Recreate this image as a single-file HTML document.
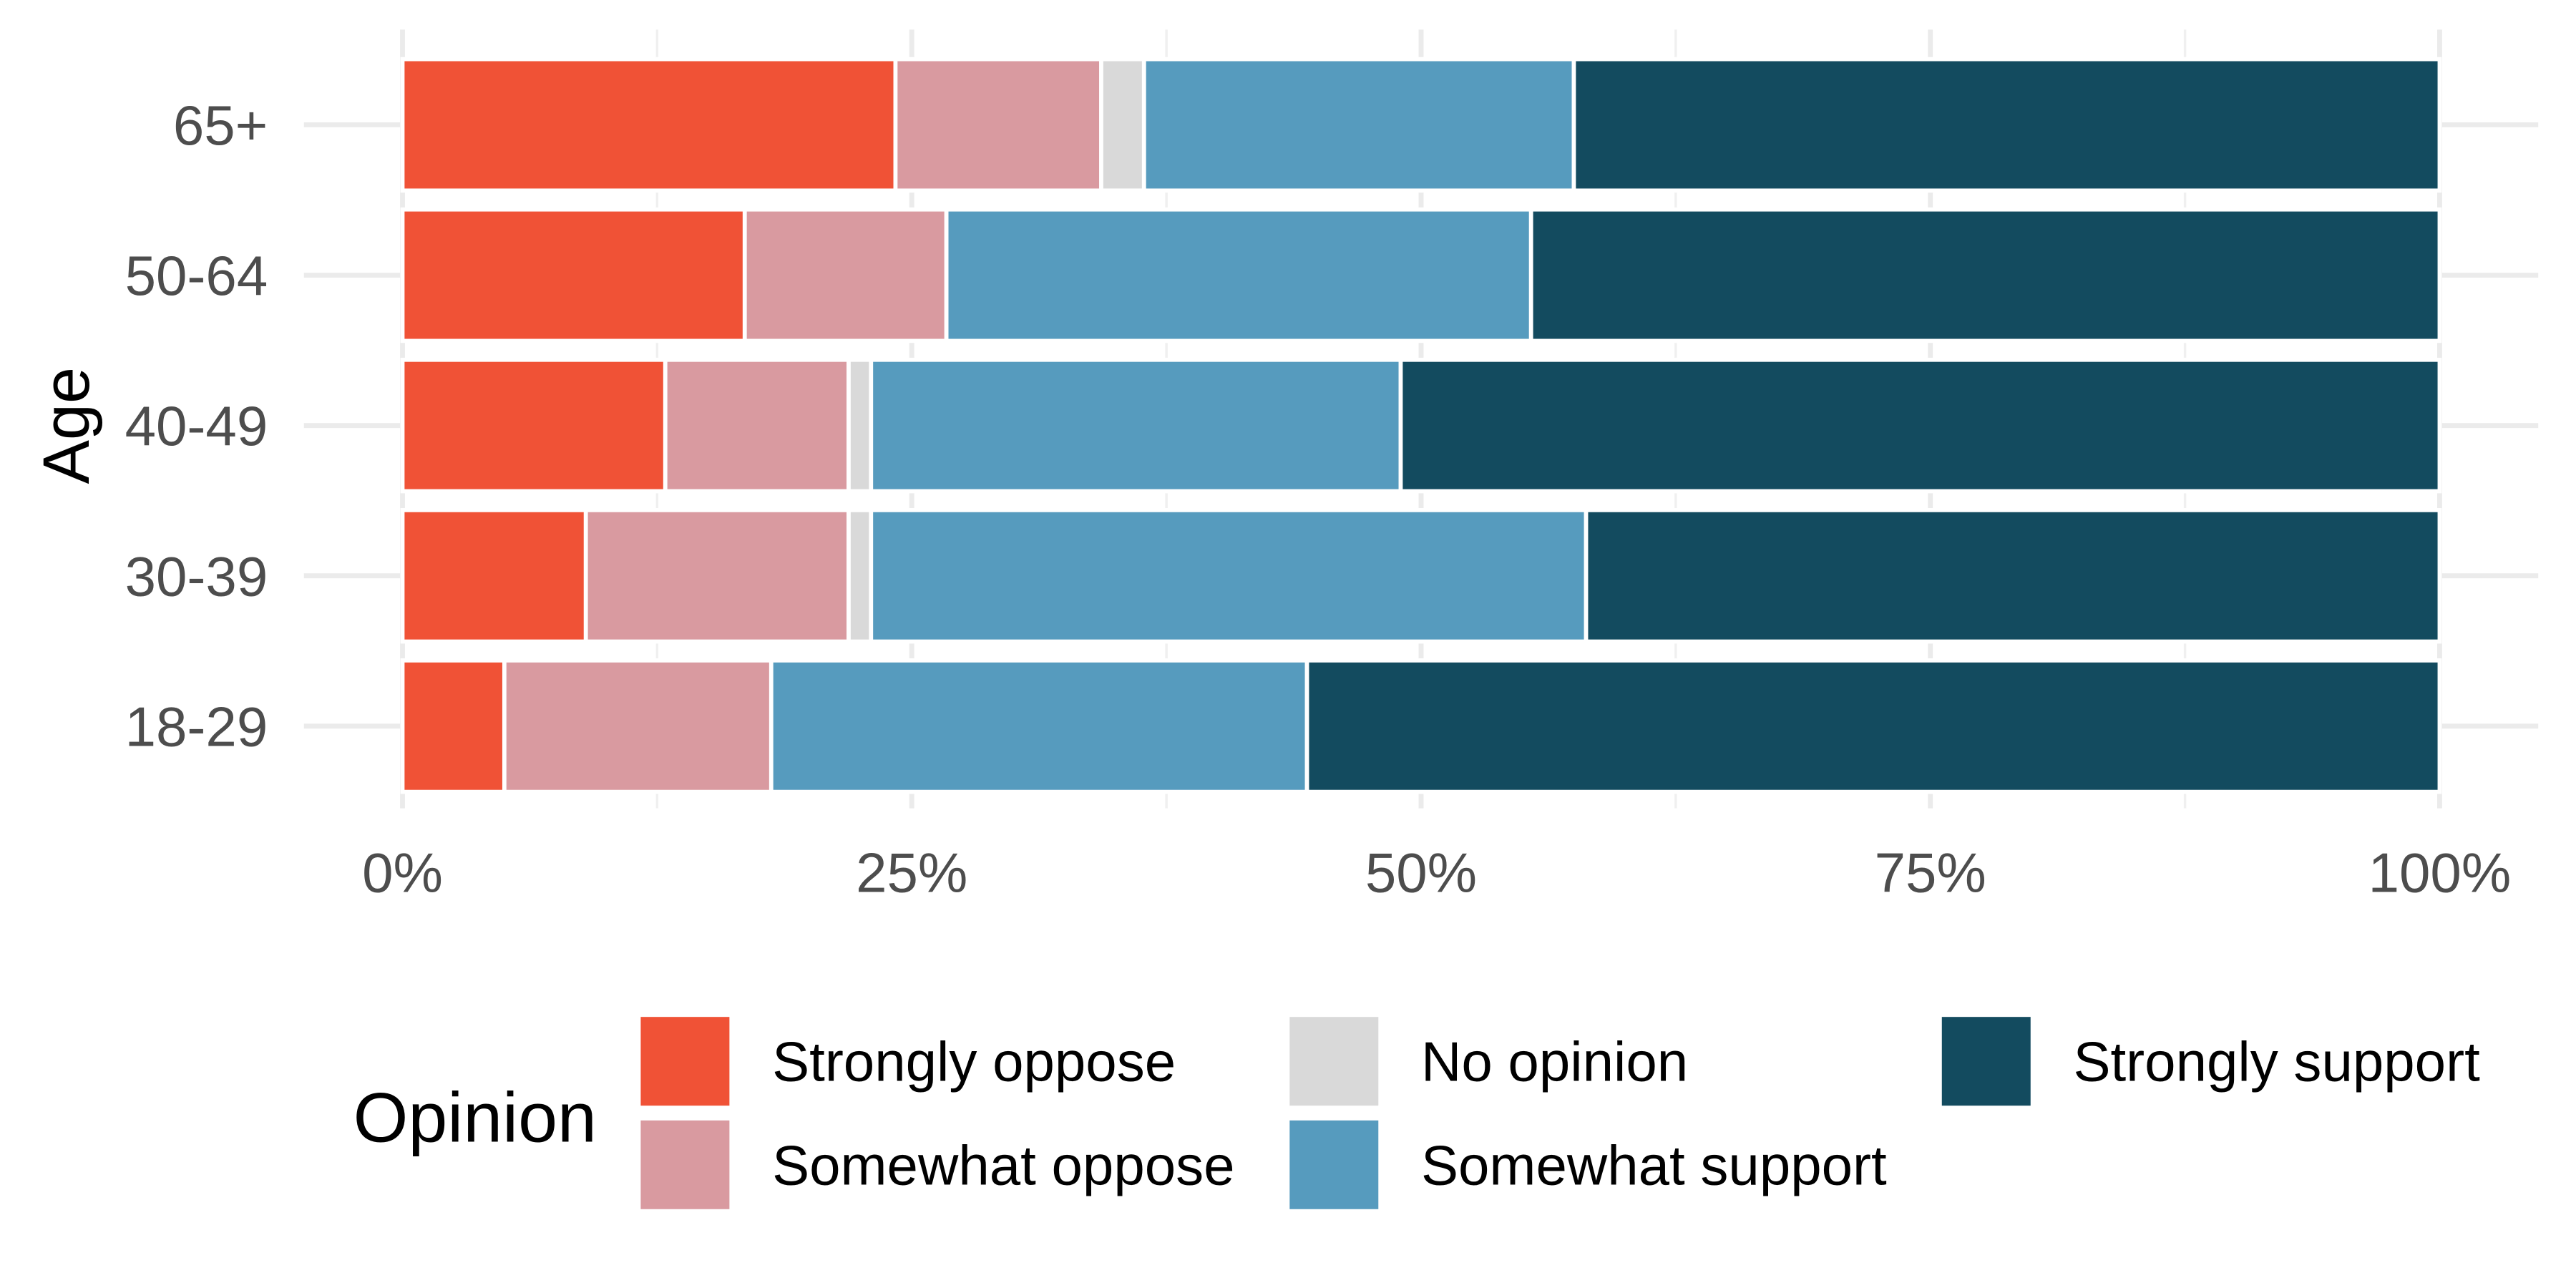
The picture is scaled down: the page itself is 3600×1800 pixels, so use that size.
<!DOCTYPE html>
<html><head><meta charset="utf-8"><style>
html,body{margin:0;padding:0;background:#fff}
svg{display:block}
text{font-family:"Liberation Sans",sans-serif}
</style></head><body>
<svg id="chart" width="3600" height="1800" viewBox="0 0 1568 784" xmlns="http://www.w3.org/2000/svg">
<g id="grid"></g>
<g id="bars"></g>
<g id="axes"></g>
<text transform="translate(54,259) rotate(-90)" text-anchor="middle" font-size="40" fill="#000">Age</text>
<g id="legend">
<text x="215" y="695" font-size="43" fill="#000">Opinion</text>
</g>
</svg>
<script>
const categories = ["65+","50-64","40-49","30-39","18-29"];
const seriesNames = ["Strongly oppose","Somewhat oppose","No opinion","Somewhat support","Strongly support"];
const stronglyOppose = [24.2,16.8,12.9,9.0,5.0];
const somewhatOppose = [10.1,9.9,9.0,12.9,13.1];
const noOpinion = [2.1,0,1.1,1.1,0];
const somewhatSupport = [21.1,28.7,26.0,35.1,26.3];
const stronglySupport = [42.5,44.6,51.0,41.9,55.6];
const xTicks = [0,25,50,75,100];
const xTickLabels = ["0%","25%","50%","75%","100%"];

const series = [stronglyOppose,somewhatOppose,noOpinion,somewhatSupport,stronglySupport];
const colors = ["#f05236","#d99aa0","#d9d9d9","#569bbe","#134b5f"];
const NS = "http://www.w3.org/2000/svg";
const x = v => 245 + v/100*1240;
const y = i => 76 + i*91.5;
const bh = 80;
function mk(tag, attrs, parent){const e=document.createElementNS(NS,tag);for(const k in attrs)e.setAttribute(k,attrs[k]);parent.appendChild(e);return e;}
const grid=document.getElementById('grid'), bars=document.getElementById('bars'), axes=document.getElementById('axes'), legend=document.getElementById('legend');
for(let t=0;t<xTicks.length;t++){
  const gl=mk('line',{x1:x(xTicks[t]),x2:x(xTicks[t]),y1:18,y2:492,stroke:'#ebebeb','stroke-width':3},grid);
  
  
  if(t<xTicks.length-1){
    const m=(xTicks[t]+xTicks[t+1])/2;
    const ml=mk('line',{x1:x(m),x2:x(m),y1:18,y2:492,stroke:'#f0f0f0','stroke-width':1.5},grid);
    
    
  }
  const lb=mk('text',{x:x(xTicks[t]),y:543,'text-anchor':'middle','font-size':34,fill:'#4d4d4d'},axes);
  lb.textContent=xTickLabels[t];
  
  
}
categories.forEach((c,i)=>{
  const hl=mk('line',{x1:185,x2:1545,y1:y(i),y2:y(i),stroke:'#ebebeb','stroke-width':3},grid);
  
  
  const lb=mk('text',{x:163,y:y(i)+12,'text-anchor':'end','font-size':34,fill:'#4d4d4d'},axes);
  lb.textContent=c;
  
  
  let cum=0;
  series.forEach((s,k)=>{
    const v=s[i];
    if(v>0){
      const r=mk('rect',{x:x(cum),y:y(i)-bh/2,width:x(cum+v)-x(cum),height:bh,fill:colors[k],stroke:'#fff','stroke-width':2.5},bars);
      
      
    }
    cum+=v;
  });
});
const legPos=[[390,619],[390,682],[785,619],[785,682],[1182,619]];
seriesNames.forEach((n,k)=>{
  const [lx,ly]=legPos[k];
  const r=mk('rect',{x:lx,y:ly,width:54,height:54,fill:colors[k]},legend);
  
  
  const t=mk('text',{x:lx+80,y:ly+39,'font-size':34,fill:'#000'},legend);
  t.textContent=n;
  
  
});
</script>
</body></html>
